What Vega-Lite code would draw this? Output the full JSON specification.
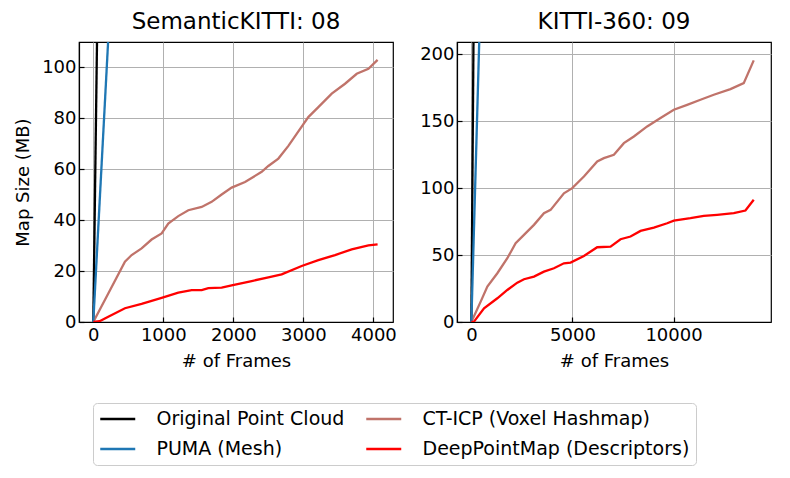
{
  "$schema": "https://vega.github.io/schema/vega-lite/v6.json",
  "padding": {"left": 14, "top": 10, "right": 5, "bottom": 5},
  "spacing": 22,
  "config": {
    "font": "DejaVu Sans",
    "view": {"stroke": "black", "strokeWidth": 1.2},
    "axis": {
      "labelFontSize": 18, "titleFontSize": 18, "labelColor": "black", "titleColor": "black",
      "titleFontWeight": "normal", "domainColor": "black", "domainWidth": 1.2,
      "tickColor": "black", "tickSize": -5, "tickWidth": 1.2, "labelPadding": 8,
      "gridColor": "#b0b0b0", "gridWidth": 1, "gridOpacity": 1, "labelFont": "DejaVu Sans", "titleFont": "DejaVu Sans"
    },
    "title": {"fontSize": 23, "fontWeight": "normal", "color": "black", "offset": 8, "font": "DejaVu Sans"}
  },
  "data": {"values": [
    {"panel": "A", "method": "Original Point Cloud", "frames": 0, "size": 0},
    {"panel": "A", "method": "Original Point Cloud", "frames": 4071, "size": 8430},
    {"panel": "A", "method": "CT-ICP (Voxel Hashmap)", "frames": 0, "size": 0},
    {"panel": "A", "method": "CT-ICP (Voxel Hashmap)", "frames": 214, "size": 11.2},
    {"panel": "A", "method": "CT-ICP (Voxel Hashmap)", "frames": 452, "size": 23.7},
    {"panel": "A", "method": "CT-ICP (Voxel Hashmap)", "frames": 548, "size": 26.3},
    {"panel": "A", "method": "CT-ICP (Voxel Hashmap)", "frames": 690, "size": 28.9},
    {"panel": "A", "method": "CT-ICP (Voxel Hashmap)", "frames": 833, "size": 32.4},
    {"panel": "A", "method": "CT-ICP (Voxel Hashmap)", "frames": 976, "size": 34.8},
    {"panel": "A", "method": "CT-ICP (Voxel Hashmap)", "frames": 1071, "size": 38.7},
    {"panel": "A", "method": "CT-ICP (Voxel Hashmap)", "frames": 1214, "size": 41.6},
    {"panel": "A", "method": "CT-ICP (Voxel Hashmap)", "frames": 1357, "size": 43.9},
    {"panel": "A", "method": "CT-ICP (Voxel Hashmap)", "frames": 1548, "size": 45.2},
    {"panel": "A", "method": "CT-ICP (Voxel Hashmap)", "frames": 1690, "size": 47.2},
    {"panel": "A", "method": "CT-ICP (Voxel Hashmap)", "frames": 1833, "size": 50.1},
    {"panel": "A", "method": "CT-ICP (Voxel Hashmap)", "frames": 1976, "size": 52.8},
    {"panel": "A", "method": "CT-ICP (Voxel Hashmap)", "frames": 2167, "size": 55.0},
    {"panel": "A", "method": "CT-ICP (Voxel Hashmap)", "frames": 2405, "size": 59.0},
    {"panel": "A", "method": "CT-ICP (Voxel Hashmap)", "frames": 2500, "size": 61.3},
    {"panel": "A", "method": "CT-ICP (Voxel Hashmap)", "frames": 2643, "size": 64.2},
    {"panel": "A", "method": "CT-ICP (Voxel Hashmap)", "frames": 2786, "size": 69.2},
    {"panel": "A", "method": "CT-ICP (Voxel Hashmap)", "frames": 2929, "size": 74.9},
    {"panel": "A", "method": "CT-ICP (Voxel Hashmap)", "frames": 3071, "size": 80.5},
    {"panel": "A", "method": "CT-ICP (Voxel Hashmap)", "frames": 3214, "size": 84.4},
    {"panel": "A", "method": "CT-ICP (Voxel Hashmap)", "frames": 3405, "size": 89.7},
    {"panel": "A", "method": "CT-ICP (Voxel Hashmap)", "frames": 3595, "size": 93.6},
    {"panel": "A", "method": "CT-ICP (Voxel Hashmap)", "frames": 3762, "size": 97.5},
    {"panel": "A", "method": "CT-ICP (Voxel Hashmap)", "frames": 3929, "size": 99.5},
    {"panel": "A", "method": "CT-ICP (Voxel Hashmap)", "frames": 4060, "size": 103.0},
    {"panel": "A", "method": "PUMA (Mesh)", "frames": 0, "size": 0},
    {"panel": "A", "method": "PUMA (Mesh)", "frames": 4071, "size": 2117},
    {"panel": "A", "method": "DeepPointMap (Descriptors)", "frames": 0, "size": 0},
    {"panel": "A", "method": "DeepPointMap (Descriptors)", "frames": 90, "size": 0.3},
    {"panel": "A", "method": "DeepPointMap (Descriptors)", "frames": 214, "size": 2.1},
    {"panel": "A", "method": "DeepPointMap (Descriptors)", "frames": 452, "size": 5.4},
    {"panel": "A", "method": "DeepPointMap (Descriptors)", "frames": 690, "size": 7.1},
    {"panel": "A", "method": "DeepPointMap (Descriptors)", "frames": 976, "size": 9.5},
    {"panel": "A", "method": "DeepPointMap (Descriptors)", "frames": 1214, "size": 11.5},
    {"panel": "A", "method": "DeepPointMap (Descriptors)", "frames": 1405, "size": 12.5},
    {"panel": "A", "method": "DeepPointMap (Descriptors)", "frames": 1548, "size": 12.5},
    {"panel": "A", "method": "DeepPointMap (Descriptors)", "frames": 1643, "size": 13.3},
    {"panel": "A", "method": "DeepPointMap (Descriptors)", "frames": 1833, "size": 13.5},
    {"panel": "A", "method": "DeepPointMap (Descriptors)", "frames": 1976, "size": 14.4},
    {"panel": "A", "method": "DeepPointMap (Descriptors)", "frames": 2262, "size": 16.1},
    {"panel": "A", "method": "DeepPointMap (Descriptors)", "frames": 2500, "size": 17.5},
    {"panel": "A", "method": "DeepPointMap (Descriptors)", "frames": 2690, "size": 18.7},
    {"panel": "A", "method": "DeepPointMap (Descriptors)", "frames": 2976, "size": 22.0},
    {"panel": "A", "method": "DeepPointMap (Descriptors)", "frames": 3214, "size": 24.3},
    {"panel": "A", "method": "DeepPointMap (Descriptors)", "frames": 3452, "size": 26.3},
    {"panel": "A", "method": "DeepPointMap (Descriptors)", "frames": 3690, "size": 28.5},
    {"panel": "A", "method": "DeepPointMap (Descriptors)", "frames": 3929, "size": 30.1},
    {"panel": "A", "method": "DeepPointMap (Descriptors)", "frames": 4060, "size": 30.5},
    {"panel": "B", "method": "Original Point Cloud", "frames": 0, "size": 0},
    {"panel": "B", "method": "Original Point Cloud", "frames": 13966, "size": 27900},
    {"panel": "B", "method": "CT-ICP (Voxel Hashmap)", "frames": 0, "size": 0},
    {"panel": "B", "method": "CT-ICP (Voxel Hashmap)", "frames": 461, "size": 15.2},
    {"panel": "B", "method": "CT-ICP (Voxel Hashmap)", "frames": 791, "size": 26.4},
    {"panel": "B", "method": "CT-ICP (Voxel Hashmap)", "frames": 1285, "size": 36.4},
    {"panel": "B", "method": "CT-ICP (Voxel Hashmap)", "frames": 1779, "size": 47.6},
    {"panel": "B", "method": "CT-ICP (Voxel Hashmap)", "frames": 2190, "size": 58.8},
    {"panel": "B", "method": "CT-ICP (Voxel Hashmap)", "frames": 2602, "size": 65.0},
    {"panel": "B", "method": "CT-ICP (Voxel Hashmap)", "frames": 3096, "size": 72.5},
    {"panel": "B", "method": "CT-ICP (Voxel Hashmap)", "frames": 3590, "size": 81.2},
    {"panel": "B", "method": "CT-ICP (Voxel Hashmap)", "frames": 3920, "size": 83.7},
    {"panel": "B", "method": "CT-ICP (Voxel Hashmap)", "frames": 4578, "size": 96.1},
    {"panel": "B", "method": "CT-ICP (Voxel Hashmap)", "frames": 4990, "size": 99.9},
    {"panel": "B", "method": "CT-ICP (Voxel Hashmap)", "frames": 5567, "size": 108.6},
    {"panel": "B", "method": "CT-ICP (Voxel Hashmap)", "frames": 6225, "size": 119.8},
    {"panel": "B", "method": "CT-ICP (Voxel Hashmap)", "frames": 6555, "size": 122.3},
    {"panel": "B", "method": "CT-ICP (Voxel Hashmap)", "frames": 7049, "size": 124.8},
    {"panel": "B", "method": "CT-ICP (Voxel Hashmap)", "frames": 7543, "size": 133.5},
    {"panel": "B", "method": "CT-ICP (Voxel Hashmap)", "frames": 8037, "size": 138.5},
    {"panel": "B", "method": "CT-ICP (Voxel Hashmap)", "frames": 8696, "size": 146.0},
    {"panel": "B", "method": "CT-ICP (Voxel Hashmap)", "frames": 9355, "size": 152.2},
    {"panel": "B", "method": "CT-ICP (Voxel Hashmap)", "frames": 10013, "size": 158.4},
    {"panel": "B", "method": "CT-ICP (Voxel Hashmap)", "frames": 10672, "size": 162.1},
    {"panel": "B", "method": "CT-ICP (Voxel Hashmap)", "frames": 11331, "size": 165.9},
    {"panel": "B", "method": "CT-ICP (Voxel Hashmap)", "frames": 11990, "size": 169.6},
    {"panel": "B", "method": "CT-ICP (Voxel Hashmap)", "frames": 12814, "size": 173.8},
    {"panel": "B", "method": "CT-ICP (Voxel Hashmap)", "frames": 13472, "size": 178.3},
    {"panel": "B", "method": "CT-ICP (Voxel Hashmap)", "frames": 13966, "size": 195.3},
    {"panel": "B", "method": "PUMA (Mesh)", "frames": 0, "size": 0},
    {"panel": "B", "method": "PUMA (Mesh)", "frames": 13966, "size": 7500},
    {"panel": "B", "method": "DeepPointMap (Descriptors)", "frames": 0, "size": 0},
    {"panel": "B", "method": "DeepPointMap (Descriptors)", "frames": 130, "size": 0.3},
    {"panel": "B", "method": "DeepPointMap (Descriptors)", "frames": 626, "size": 10.2},
    {"panel": "B", "method": "DeepPointMap (Descriptors)", "frames": 1285, "size": 17.7},
    {"panel": "B", "method": "DeepPointMap (Descriptors)", "frames": 1779, "size": 23.9},
    {"panel": "B", "method": "DeepPointMap (Descriptors)", "frames": 2273, "size": 29.4},
    {"panel": "B", "method": "DeepPointMap (Descriptors)", "frames": 2602, "size": 31.9},
    {"panel": "B", "method": "DeepPointMap (Descriptors)", "frames": 3096, "size": 33.9},
    {"panel": "B", "method": "DeepPointMap (Descriptors)", "frames": 3590, "size": 37.6},
    {"panel": "B", "method": "DeepPointMap (Descriptors)", "frames": 4085, "size": 40.1},
    {"panel": "B", "method": "DeepPointMap (Descriptors)", "frames": 4578, "size": 43.8},
    {"panel": "B", "method": "DeepPointMap (Descriptors)", "frames": 4908, "size": 44.3},
    {"panel": "B", "method": "DeepPointMap (Descriptors)", "frames": 5567, "size": 49.3},
    {"panel": "B", "method": "DeepPointMap (Descriptors)", "frames": 6225, "size": 55.8},
    {"panel": "B", "method": "DeepPointMap (Descriptors)", "frames": 6884, "size": 56.3},
    {"panel": "B", "method": "DeepPointMap (Descriptors)", "frames": 7378, "size": 61.8},
    {"panel": "B", "method": "DeepPointMap (Descriptors)", "frames": 7873, "size": 63.8},
    {"panel": "B", "method": "DeepPointMap (Descriptors)", "frames": 8367, "size": 68.0},
    {"panel": "B", "method": "DeepPointMap (Descriptors)", "frames": 9026, "size": 70.5},
    {"panel": "B", "method": "DeepPointMap (Descriptors)", "frames": 9684, "size": 73.7},
    {"panel": "B", "method": "DeepPointMap (Descriptors)", "frames": 10013, "size": 75.7},
    {"panel": "B", "method": "DeepPointMap (Descriptors)", "frames": 10837, "size": 77.5},
    {"panel": "B", "method": "DeepPointMap (Descriptors)", "frames": 11496, "size": 79.2},
    {"panel": "B", "method": "DeepPointMap (Descriptors)", "frames": 12155, "size": 80.0},
    {"panel": "B", "method": "DeepPointMap (Descriptors)", "frames": 12978, "size": 81.2},
    {"panel": "B", "method": "DeepPointMap (Descriptors)", "frames": 13555, "size": 83.2},
    {"panel": "B", "method": "DeepPointMap (Descriptors)", "frames": 13966, "size": 91.2}
  ]},
  "hconcat": [
    {
      "width": 314, "height": 280,
      "title": "SemanticKITTI: 08",
      "transform": [{"filter": "datum.panel === 'A'"}],
      "mark": {"type": "line", "clip": true, "strokeWidth": 2.3},
      "encoding": {
        "x": {"field": "frames", "type": "quantitative", "title": "# of Frames",
              "scale": {"domain": [-204, 4280], "nice": false, "zero": false},
              "axis": {"values": [0, 1000, 2000, 3000, 4000], "format": "d", "labelPadding": 9, "titlePadding": 8}},
        "y": {"field": "size", "type": "quantitative", "title": "Map Size (MB)",
              "scale": {"domain": [0, 110], "nice": false},
              "axis": {"values": [0, 20, 40, 60, 80, 100], "titlePadding": 9}},
        "color": {"field": "method", "type": "nominal",
                  "scale": {"domain": ["Original Point Cloud", "PUMA (Mesh)", "CT-ICP (Voxel Hashmap)", "DeepPointMap (Descriptors)"],
                            "range": ["#000000", "#1f77b4", "#c0736a", "#ff0000"]},
                  "legend": {"title": null, "orient": "none", "legendX": 14, "legendY": 361, "columns": 2,
                             "symbolType": "M-1,0H3", "symbolSize": 306, "symbolStrokeWidth": 2.5,
                             "labelFontSize": 19, "labelColor": "black", "labelFont": "DejaVu Sans", "labelOffset": 37.5, "rowPadding": 10, "columnPadding": 16,
                             "strokeColor": "#cccccc", "fillColor": "white", "cornerRadius": 4, "padding": 6, "labelLimit": 400}}
      }
    },
    {
      "width": 314, "height": 280,
      "title": "KITTI-360: 09",
      "transform": [{"filter": "datum.panel === 'B'"}],
      "mark": {"type": "line", "clip": true, "strokeWidth": 2.3},
      "encoding": {
        "x": {"field": "frames", "type": "quantitative", "title": "# of Frames",
              "scale": {"domain": [-710, 14820], "nice": false, "zero": false},
              "axis": {"values": [0, 5000, 10000], "format": "d", "labelPadding": 9, "titlePadding": 8}},
        "y": {"field": "size", "type": "quantitative", "title": null,
              "scale": {"domain": [0, 209], "nice": false},
              "axis": {"values": [0, 50, 100, 150, 200]}},
        "color": {"field": "method", "type": "nominal",
                  "scale": {"domain": ["Original Point Cloud", "PUMA (Mesh)", "CT-ICP (Voxel Hashmap)", "DeepPointMap (Descriptors)"],
                            "range": ["#000000", "#1f77b4", "#c0736a", "#ff0000"]}}
      }
    }
  ]
}
